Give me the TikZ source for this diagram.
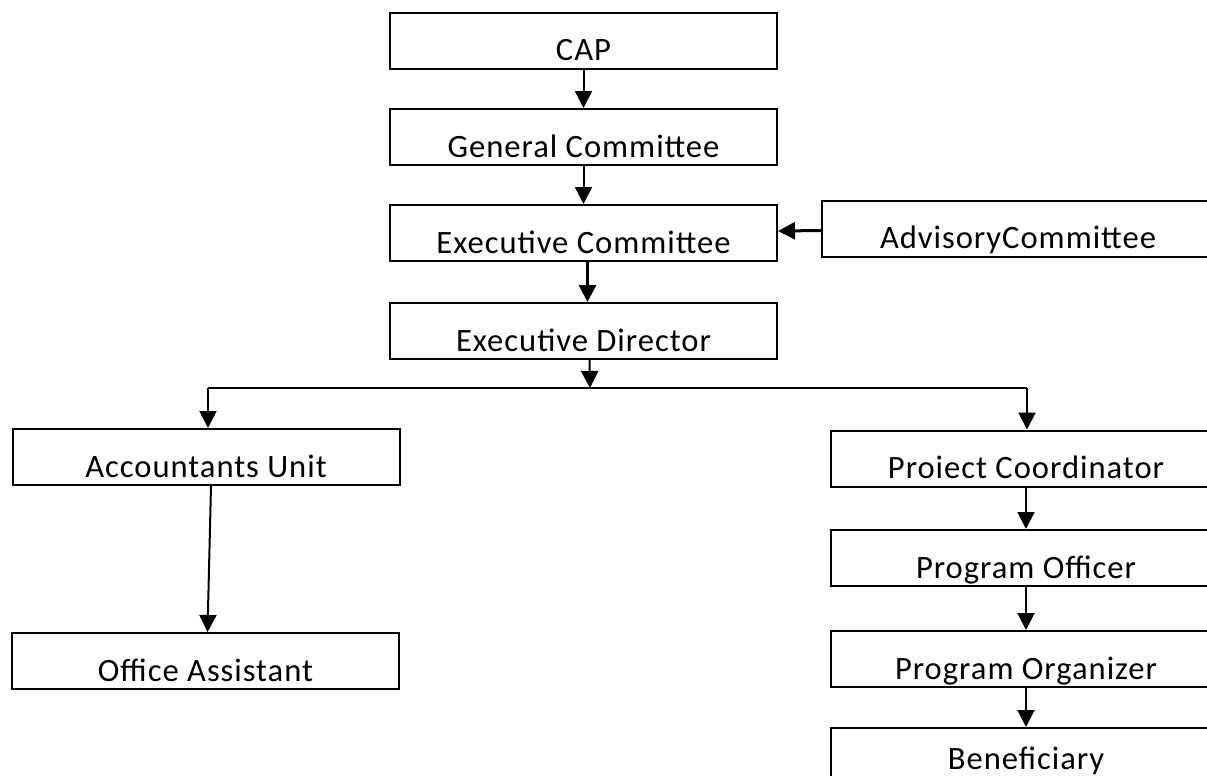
\documentclass[tikz,border=0pt]{standalone}
\usepackage{fontspec}
\setmainfont[LetterSpace=3]{Carlito}
\usetikzlibrary{positioning,arrows.meta}

\tikzset{
  unit/.style={draw, line width=1pt, minimum width=193.5pt, minimum height=28pt,
    inner sep=0pt, text height=24pt, text depth=4pt,
    font=\fontsize{16.3}{18}\selectfont},
  link/.style={line width=1pt, -{Triangle[width=8.5pt,length=8.5pt]}},
}

\begin{document}
\begin{tikzpicture}[x=0.5pt, y=-0.5pt, node distance=19pt]
  \useasboundingbox (0,0) rectangle (1207,776);
  % main column
  \node[unit] (cap) at (583.5,41) {CAP};
  \node[unit, below=of cap] (gc) {General Committee};
  \node[unit, below=of gc] (ec) {Executive Committee};
  \node[unit, below=20pt of ec] (ed) {Executive Director};
  \node[unit, minimum width=196pt] (ac) at (1018,228.5) {AdvisoryCommittee};
  % left branch
  \node[unit] (au) at (206,457) {Accountants Unit};
  \node[unit] (oa) at (205.5,661) {Office Assistant};
  % right branch
  \node[unit, minimum width=195pt] (pc) at (1026,458.5) {Proiect Coordinator};
  \node[unit, minimum width=195pt, below=20.75pt of pc] (po) {Program Officer};
  \node[unit, minimum width=195pt, below=21.5pt of po] (pg) {Program Organizer};
  \node[unit, minimum width=195pt, text height=20.5pt, text depth=7.5pt,
    below=19.5pt of pg] (bn) {Beneficiary};
  \coordinate (fork) at (590,388);
  \coordinate (forkL) at (208,388);
  \coordinate (forkR) at (1027,388);

  \draw[link] (cap) -- (gc);
  \draw[link] (gc) -- (ec);
  \draw[link, line width=1.5pt] ([xshift=2pt]ec.south) -- ([xshift=2pt]ed.north);
  \draw[link, line width=1.5pt] (ac) -- (ec);
  \draw[line width=1pt] (forkL) -- (forkR);
  \draw[link] ([xshift=3pt]ed.south) -- (fork);
  \draw[link] (forkL) -- (forkL |- au.north);
  \draw[link] (forkR) -- (forkR |- pc.north);
  \draw[link] ([xshift=2.5pt]au.south) -- ([xshift=1pt]oa.north);
  \draw[link] (pc) -- (po);
  \draw[link] (po) -- (pg);
  \draw[link] (pg) -- (bn);
\end{tikzpicture}
\end{document}
